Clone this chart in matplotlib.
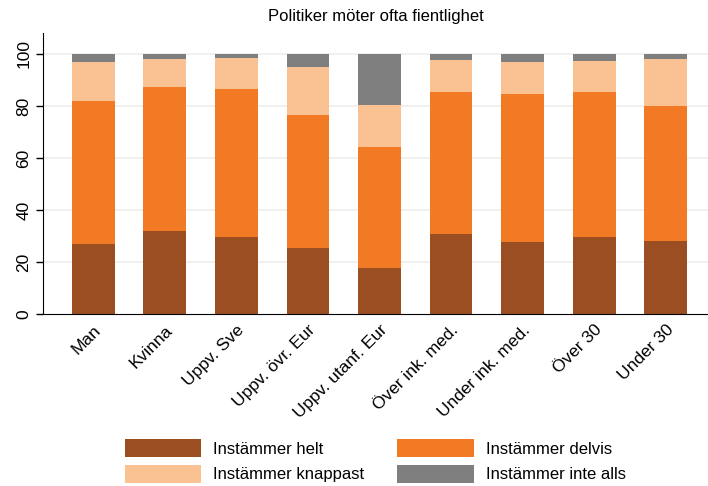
import matplotlib
matplotlib.use("Agg")
import matplotlib.pyplot as plt
import numpy as np

plt.rcParams['font.family'] = ['Liberation Sans', 'DejaVu Sans']

groups = ["Man", "Kvinna", "Uppv. Sve", "Uppv. övr. Eur", "Uppv. utanf. Eur",
          "Över ink. med.", "Under ink. med.", "Över 30", "Under 30"]
helt = [27.0, 32.0, 29.7, 25.4, 17.8, 30.9, 27.7, 29.7, 28.1]
delvis = [54.8, 55.2, 56.8, 51.0, 46.4, 54.4, 56.8, 55.6, 51.8]
knappast = [15.0, 10.8, 12.0, 18.5, 16.1, 12.3, 12.3, 11.9, 18.1]
inte_alls = [3.2, 2.0, 1.5, 5.1, 19.7, 2.4, 3.2, 2.8, 2.0]

series = [("Instämmer helt", helt, "#9A4E22"),
          ("Instämmer delvis", delvis, "#F37A25"),
          ("Instämmer knappast", knappast, "#FAC293"),
          ("Instämmer inte alls", inte_alls, "#7F7F7F")]

fig = plt.figure(figsize=(7.08, 4.86), dpi=100)
ax = fig.add_axes([0.0607, 0.354, 0.939, 0.578])

x = np.arange(len(groups))
bottom = np.zeros(len(groups))
bars = {}
for name, vals, col in series:
    bars[name] = ax.bar(x, vals, 0.6, bottom=bottom, color=col, label=name, zorder=2)
    bottom += np.array(vals)

ax.set_xlim(-0.705, 8.59)
ax.set_ylim(0, 108)
ax.set_yticks([0, 20, 40, 60, 80, 100])
for v in [20, 40, 60, 80, 100]:
    ax.axhline(v, color="#EEEEEA", lw=1.2, zorder=1)
ax.tick_params(axis='y', labelsize=12.5, length=5, width=1, labelrotation=90)
for lab in ax.get_yticklabels():
    lab.set_va('center')
ax.tick_params(axis='x', length=0, pad=6)
ax.set_xticks(x)
ax.set_xticklabels(groups, rotation=45, ha='right', rotation_mode='anchor', fontsize=12.5)
ax.spines['top'].set_visible(False)
ax.spines['right'].set_visible(False)
ax.set_title("Politiker möter ofta fientlighet", fontsize=12, pad=9)

order = ["Instämmer helt", "Instämmer knappast", "Instämmer delvis", "Instämmer inte alls"]
fig.legend([bars[n] for n in order], order, ncol=2, loc='lower center',
           bbox_to_anchor=(0.53, 0.0), frameon=False, fontsize=12,
           handlelength=4.6, handleheight=1.3, handletextpad=0.7,
           columnspacing=2.0, labelspacing=0.45, borderaxespad=0.1, borderpad=0.1)

fig.savefig("out.png", dpi=100)
